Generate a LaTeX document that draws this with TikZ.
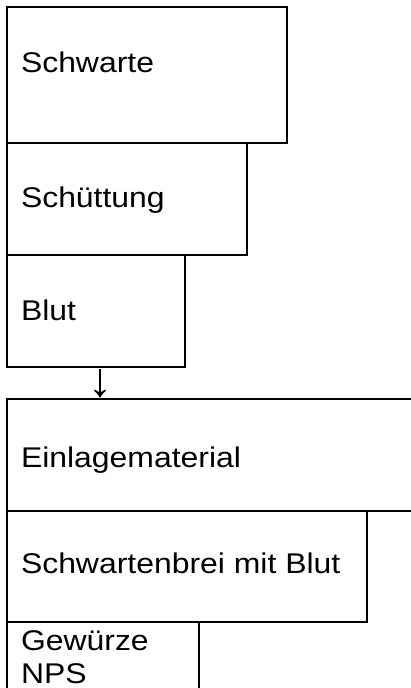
\documentclass[tikz,border=0pt]{standalone}
\usepackage{fontspec}
\setmainfont{Liberation Sans}[FakeStretch=1.12]
\newfontfamily\arrowfont{Liberation Sans}
\begin{document}
\begin{tikzpicture}[x=1pt,y=-1pt,
  box/.style={draw=black, line width=1.3pt, rectangle, inner sep=0pt, outer sep=0pt, anchor=north west},
  lbl/.style={inner sep=0pt, outer sep=0pt, anchor=base west, font=\fontsize{28.5}{33}\selectfont}]
\useasboundingbox (0,0) rectangle (411,688);
\clip (0,0) rectangle (411,688);
\node[box, minimum width=280pt, minimum height=136pt] (b1) at (7,7) {};
\node[box, minimum width=240pt, minimum height=112pt] (b2) at (7,143) {};
\node[box, minimum width=178pt, minimum height=112pt] (b3) at (7,255) {};
\node[box, minimum width=420pt, minimum height=112pt] (b4) at (7,399) {};
\node[box, minimum width=360pt, minimum height=111pt] (b5) at (7,511) {};
\node[box, minimum width=192pt, minimum height=90pt] (b6) at (7,622) {};
\node[lbl] (t1) at (21,72) {Schwarte};
\node[lbl] (t2) at (21,207) {Schüttung};
\node[lbl] (t3) at (21,320) {Blut};
\node[lbl] (t4) at (21,467) {Einlagematerial};
\node[lbl] (t5) at (21,573) {Schwartenbrei mit Blut};
\node[lbl] (t6a) at (21,650) {Gewürze};
\node[lbl] (t6b) at (21,683) {NPS};
\node[inner sep=0pt, font=\arrowfont\fontsize{48}{50}\selectfont] (arr) at (100,384) {↓};
\end{tikzpicture}
\end{document}
